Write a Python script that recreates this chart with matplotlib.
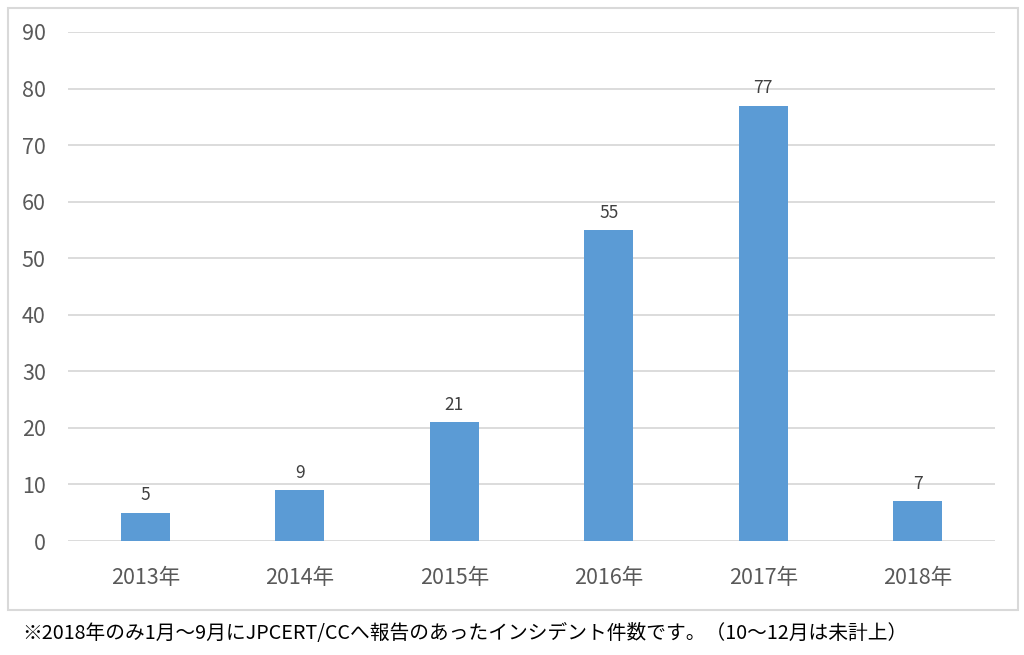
import matplotlib
matplotlib.use("Agg")
import matplotlib.pyplot as plt
from matplotlib.patches import Rectangle

plt.rcParams['font.family'] = ['Noto Sans CJK JP', 'DejaVu Sans']

categories = ["2013年", "2014年", "2015年", "2016年", "2017年", "2018年"]
values = [5, 9, 21, 55, 77, 7]
yticks = [0, 10, 20, 30, 40, 50, 60, 70, 80, 90]
footnote = "※2018年のみ1月～9月にJPCERT/CCへ報告のあったインシデント件数です。（10～12月は未計上）"

W, H = 1024, 655
fig = plt.figure(figsize=(W/100, H/100), dpi=100)

# outer frame
fig.patches.append(Rectangle((8/W, 1-610/H), (1018-8)/W, (610-8)/H,
                             transform=fig.transFigure, fill=False,
                             edgecolor='#D9D9D9', linewidth=1.5))

ax = fig.add_axes([68/W, 1-541/H, (995-68)/W, (541-32)/H])
x = list(range(len(categories)))
bars = ax.bar(x, values, width=0.317, color='#5B9BD5', zorder=3)
for xi, v in zip(x, values):
    ax.annotate(str(v), (xi, v), xytext=(0, 6), textcoords='offset points',
                ha='center', va='bottom', fontsize=12.5, color='#404040')

ax.set_xlim(-0.5, len(categories)-0.5)
ax.set_ylim(0, 90)
ax.set_yticks(yticks)
ax.set_xticks(x)
ax.set_xticklabels(categories)
ax.grid(axis='y', color='#D9D9D9', linewidth=1.3, zorder=0)
for s in ax.spines.values():
    s.set_visible(False)
ax.tick_params(axis='both', length=0, labelsize=15.5, colors='#595959')
ax.tick_params(axis='y', pad=16)
ax.tick_params(axis='x', pad=19)

fig.text(22/W, 1-634/H, footnote, fontsize=14.2, color='black', ha='left', va='center')

fig.savefig("out.png", dpi=100)
